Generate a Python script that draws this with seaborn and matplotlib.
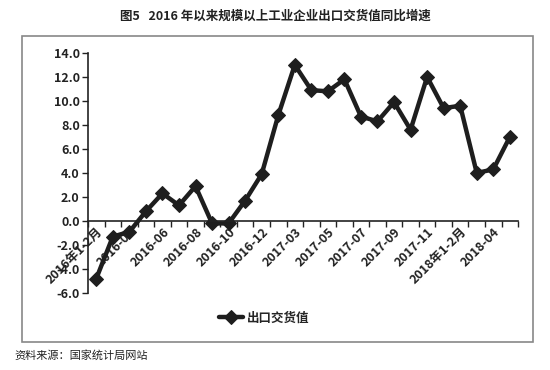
import pandas as pd
import matplotlib.pyplot as plt
import seaborn as sns
from matplotlib.patches import Rectangle

# 月份（2017年1-2月合并统计）
months = ['2016年1-2月', '2016-03', '2016-04', '2016-05', '2016-06', '2016-07',
          '2016-08', '2016-09', '2016-10', '2016-11', '2016-12', '2017年1-2月',
          '2017-03', '2017-04', '2017-05', '2017-06', '2017-07', '2017-08',
          '2017-09', '2017-10', '2017-11', '2017-12', '2018年1-2月', '2018-03',
          '2018-04', '2018-05']
# 出口交货值同比增速（%）
growth = [-4.8, -1.3, -0.9, 0.8, 2.3, 1.3, 2.9, -0.2, -0.2, 1.7, 3.9, 8.8,
          13.0, 10.9, 10.8, 11.8, 8.7, 8.3, 9.9, 7.6, 12.0, 9.4, 9.6, 4.0,
          4.3, 7.0]
y_ticks = [-6, -4, -2, 0, 2, 4, 6, 8, 10, 12, 14]

df = pd.DataFrame({'月份': months, '增速': growth})
df['pos'] = range(len(df))

sns.set_theme(style='white')
plt.rcParams['font.family'] = ['Noto Sans CJK SC', 'DejaVu Sans']
plt.rcParams['axes.unicode_minus'] = False

fig = plt.figure(figsize=(5.5, 3.7), dpi=100)
ax = fig.add_axes([0.16, 0.208, 0.782, 0.649])

sns.lineplot(data=df, x='pos', y='增速', ax=ax, color='#1e1e1e', linewidth=3.2,
             marker='D', markersize=7.5, markeredgecolor='#1e1e1e',
             label='出口交货值', sort=False)

# x轴放在0处（会重置刻度，所以要先做）
ax.spines['bottom'].set_position(('data', 0))
ax.spines['top'].set_visible(False)
ax.spines['right'].set_visible(False)
for s in ['bottom', 'left']:
    ax.spines[s].set_color('#222222')
    ax.spines[s].set_linewidth(1.2)
ax.set_xlabel('')
ax.set_ylabel('')

ax.set_xlim(-0.5, len(months) - 0.5)
ax.set_ylim(-6, 14)
ax.set_yticks(y_ticks)
ax.set_yticklabels([f'{v:.1f}' for v in y_ticks], fontsize=9, fontweight='bold',
                   color='#222222')

ax.tick_params(axis='x', which='major', direction='out', length=4, width=1,
               color='#222222', bottom=True, labelbottom=False)
ax.tick_params(axis='x', which='minor', length=0, pad=3, bottom=True,
               labelbottom=True)
ax.tick_params(axis='y', direction='out', length=4, width=1, color='#222222',
               left=True, pad=2)

# 刻度线在分类边界，标签每隔一个月
ax.set_xticks([i - 0.5 for i in range(len(months) + 1)])
ax.set_xticks(list(df['pos'][::2]), minor=True)
ax.set_xticklabels(months[::2], minor=True, rotation=45, ha='right',
                   rotation_mode='anchor', fontsize=9, fontweight='bold',
                   color='#222222')

ax.legend(loc='center', bbox_to_anchor=(0.41, -0.105), frameon=False,
          prop={'size': 9, 'weight': 'bold'}, handlelength=1.9,
          handletextpad=0.3)

fig.patches.append(Rectangle((0.04, 0.076), 0.929, 0.827, transform=fig.transFigure,
                             fill=False, edgecolor='#888888', linewidth=1.2))

fig.text(0.5, 0.955, '图5   2016 年以来规模以上工业企业出口交货值同比增速',
         ha='center', va='center', fontsize=9, fontweight='bold', color='#222222')
fig.text(0.027, 0.04, '资料来源：国家统计局网站', ha='left', va='center',
         fontsize=8, color='#222222')

fig.savefig('out.png', dpi=100)
